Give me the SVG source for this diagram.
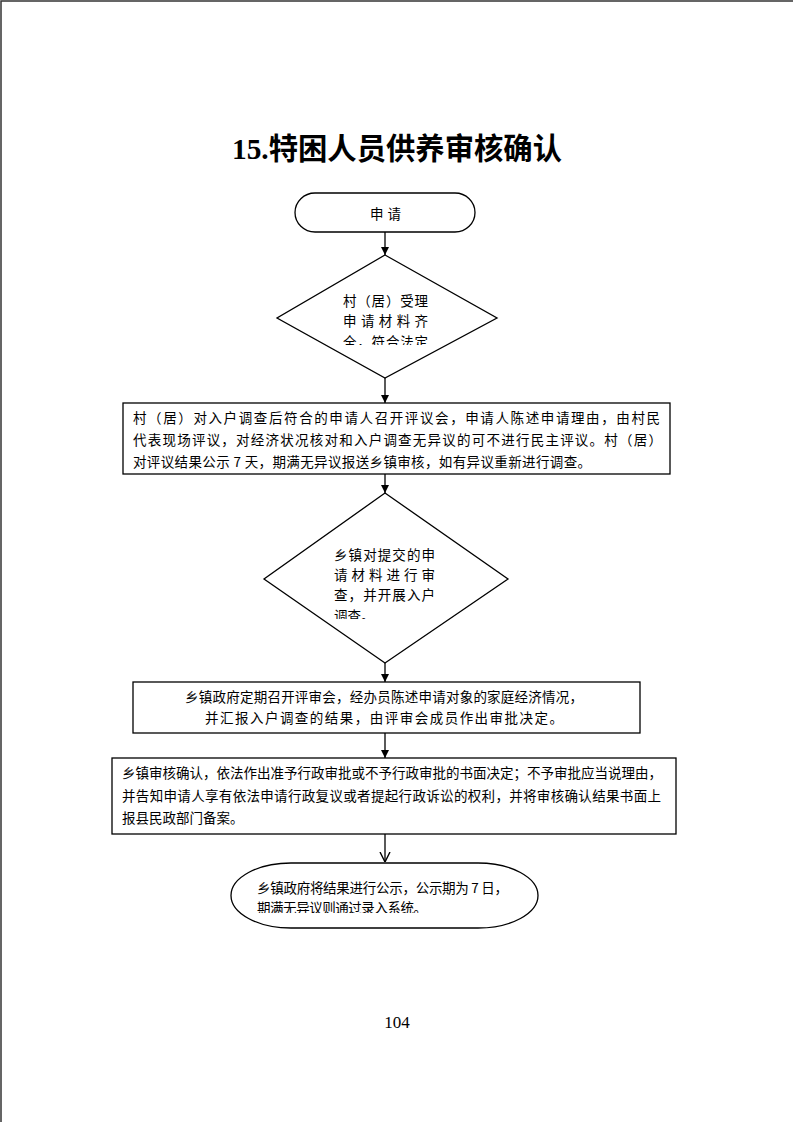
<svg xmlns="http://www.w3.org/2000/svg" width="793" height="1122" viewBox="0 0 793 1122">
<style>
.shape{fill:#fff;stroke:#000;stroke-width:1.3}
.t{font-family:"Noto Sans CJK SC","Liberation Sans",sans-serif;font-size:13.5px;fill:#000}
.conn{stroke:#000;stroke-width:1.3;fill:none}
</style>
<defs>
<marker id="arr" viewBox="0 0 10 10" refX="10" refY="5" markerWidth="8" markerHeight="8" markerUnits="userSpaceOnUse" orient="auto">
<path d="M0,0 L10,5 L0,10 z" fill="#000"/>
</marker>
<marker id="open" viewBox="0 0 10 10" refX="10" refY="5" markerWidth="10" markerHeight="14" markerUnits="userSpaceOnUse" orient="auto">
<path d="M0,0 L10,5 L0,10" fill="none" stroke="#000" stroke-width="1.4"/>
</marker>
<clipPath id="c1"><rect x="320" y="285" width="130" height="60"/></clipPath>
<clipPath id="c2"><rect x="320" y="535" width="130" height="84"/></clipPath>
<clipPath id="c3"><rect x="240" y="870" width="290" height="43"/></clipPath>
</defs>
<rect width="793" height="1122" fill="#fff"/>
<path d="M1,1122 V1 H793" fill="none" stroke="#333" stroke-width="1.5"/>
<text x="232" y="159" textLength="330" lengthAdjust="spacingAndGlyphs" style="font-family:'Liberation Serif','Noto Sans CJK SC',serif;font-size:30px;font-weight:bold">15.特困人员供养审核确认</text>

<g id="connectors">
<line class="conn" x1="385" y1="232" x2="385" y2="255" marker-end="url(#arr)"/>
<line class="conn" x1="385" y1="378" x2="385" y2="403" marker-end="url(#arr)"/>
<line class="conn" x1="385" y1="474" x2="385" y2="493" marker-end="url(#arr)"/>
<line class="conn" x1="385" y1="663" x2="385" y2="682" marker-end="url(#arr)"/>
<line class="conn" x1="385" y1="733" x2="385" y2="758" marker-end="url(#arr)"/>
<line class="conn" x1="385" y1="834" x2="385" y2="862" marker-end="url(#open)"/>
</g>

<g id="start">
<rect class="shape" x="295" y="193" width="180" height="39" rx="20" ry="19.5"/>
<text class="t" x="370" y="219" textLength="31" lengthAdjust="spacing">申 请</text>
</g>

<g id="decision1">
<polygon class="shape" points="385,255 497,318 385,378 277,318"/>
<g clip-path="url(#c1)">
<text class="t" x="343" y="306" textLength="85" lengthAdjust="spacing">村（居）受理</text>
<text class="t" x="343" y="326" textLength="85" lengthAdjust="spacing">申请材料齐</text>
<text class="t" x="343" y="347" textLength="85" lengthAdjust="spacing">全，符合法定</text>
</g>
</g>

<g id="review">
<rect class="shape" x="123" y="403" width="547" height="71"/>
<text class="t" x="133" y="423" textLength="527" lengthAdjust="spacing">村（居）对入户调查后符合的申请人召开评议会，申请人陈述申请理由，由村民</text>
<text class="t" x="133" y="445" textLength="529" lengthAdjust="spacing">代表现场评议，对经济状况核对和入户调查无异议的可不进行民主评议。村（居）</text>
<text class="t" x="133" y="467" textLength="458" lengthAdjust="spacing">对评议结果公示 7 天，期满无异议报送乡镇审核，如有异议重新进行调查。</text>
</g>

<g id="decision2">
<polygon class="shape" points="385,493 508,579 385,663 264,579"/>
<g clip-path="url(#c2)">
<text class="t" x="334" y="560" textLength="101" lengthAdjust="spacing">乡镇对提交的申</text>
<text class="t" x="334" y="580" textLength="101" lengthAdjust="spacing">请材料进行审</text>
<text class="t" x="334" y="600" textLength="101" lengthAdjust="spacing">查，并开展入户</text>
<text class="t" x="334" y="621">调查。</text>
</g>
</g>

<g id="committee">
<rect class="shape" x="133" y="682" width="507" height="51"/>
<text class="t" x="185" y="702" textLength="398" lengthAdjust="spacing">乡镇政府定期召开评审会，经办员陈述申请对象的家庭经济情况，</text>
<text class="t" x="205" y="723" textLength="358" lengthAdjust="spacing">并汇报入户调查的结果，由评审会成员作出审批决定。</text>
</g>

<g id="confirm">
<rect class="shape" x="112" y="758" width="564" height="76"/>
<text class="t" x="122" y="778" textLength="540" lengthAdjust="spacing">乡镇审核确认，依法作出准予行政审批或不予行政审批的书面决定；不予审批应当说理由，</text>
<text class="t" x="122" y="801" textLength="539" lengthAdjust="spacing">并告知申请人享有依法申请行政复议或者提起行政诉讼的权利，并将审核确认结果书面上</text>
<text class="t" x="122" y="823">报县民政部门备案。</text>
</g>

<g id="end">
<rect class="shape" x="231" y="863" width="307" height="65" rx="60" ry="32.5"/>
<g clip-path="url(#c3)">
<text class="t" x="257" y="893" textLength="251" lengthAdjust="spacing">乡镇政府将结果进行公示，公示期为 7 日，</text>
<text class="t" x="257" y="913" textLength="170" lengthAdjust="spacing">期满无异议则通过录入系统。</text>
</g>
</g>

<text x="397" y="1028" text-anchor="middle" style="font-family:'Liberation Serif',serif;font-size:17px">104</text>
</svg>
